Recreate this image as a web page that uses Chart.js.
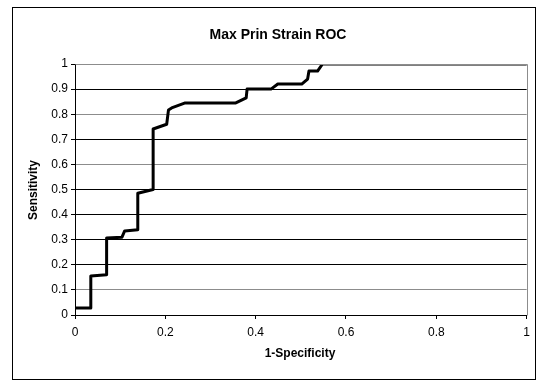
<!DOCTYPE html>
<html>
<head>
<meta charset="utf-8">
<script src="https://cdn.jsdelivr.net/npm/chart.js@4/dist/chart.umd.min.js"></script>
<style>
    html, body { margin: 0; padding: 0; background: #fff; }
    #wrap { width: 536px; height: 380px; }
</style>
</head>
<body>
<div id="wrap"><canvas id="chart" width="536" height="380"></canvas></div>
<script>
'use strict';

// ROC curve points
const specificity = [
    0, 0.035, 0.035, 0.07, 0.07, 0.104, 0.11, 0.139, 0.139, 0.173, 0.173,
    0.203, 0.207, 0.214, 0.244, 0.356, 0.379, 0.381, 0.434, 0.449, 0.502,
    0.515, 0.518, 0.537, 0.548, 1,
];
const sensitivity = [
    0.028, 0.028, 0.155, 0.16, 0.307, 0.31, 0.335, 0.34, 0.485, 0.5, 0.741,
    0.76, 0.817, 0.825, 0.845, 0.845, 0.865, 0.9, 0.9, 0.92, 0.92, 0.94,
    0.972, 0.972, 1, 1,
];
const xTicks = [0, 0.2, 0.4, 0.6, 0.8, 1];
const yTicks = [0, 0.1, 0.2, 0.3, 0.4, 0.5, 0.6, 0.7, 0.8, 0.9, 1];

const chartTitle = 'Max Prin Strain ROC';
const xTitle = '1-Specificity';
const yTitle = 'Sensitivity';

const FONT = '"Liberation Sans", Arial, sans-serif';

// gridlines that look black in the picture, the rest look grey
const darkLines = [0.2, 0.3, 0.4, 0.5, 0.7, 0.9];

const points = specificity.map((x, i) => ({ x: x, y: sensitivity[i] }));

// Frame, plot border and the texts, Excel style
const decorations = {
    id: 'decorations',
    beforeDraw(chart) {
        const ctx = chart.ctx;
        ctx.save();
        ctx.fillStyle = '#fff';
        ctx.fillRect(0, 0, chart.width, chart.height);
        ctx.restore();
    },
    afterDraw(chart) {
        const ctx = chart.ctx;
        const area = chart.chartArea;
        ctx.save();
        // outer frame
        ctx.strokeStyle = '#000';
        ctx.lineWidth = 1;
        ctx.strokeRect(12.5, 7.5, 523, 372);
        // grey plot border top / right
        ctx.strokeStyle = '#8c8c8c';
        ctx.beginPath();
        ctx.moveTo(Math.round(area.left) + 0.5, Math.round(area.top) + 0.5);
        ctx.lineTo(Math.round(area.right) + 0.5, Math.round(area.top) + 0.5);
        ctx.lineTo(Math.round(area.right) + 0.5, Math.round(area.bottom) + 0.5);
        ctx.stroke();

        ctx.fillStyle = '#000';
        ctx.textAlign = 'center';
        ctx.textBaseline = 'middle';
        ctx.font = 'bold 14px ' + FONT;
        ctx.fillText(chartTitle, 278, 35);
        ctx.font = 'bold 12px ' + FONT;
        ctx.fillText(xTitle, 300, 354);
        ctx.translate(34, 190);
        ctx.rotate(-Math.PI / 2);
        ctx.fillText(yTitle, 0, 0);
        ctx.restore();
    },
};

new Chart(document.getElementById('chart'), {
    type: 'scatter',
    data: {
        datasets: [
            {
                data: points,
                showLine: true,
                borderColor: '#000',
                borderWidth: 3,
                borderJoinStyle: 'round',
                borderCapStyle: 'round',
                pointRadius: 0,
                pointHoverRadius: 0,
                tension: 0,
            },
        ],
    },
    options: {
        responsive: false,
        animation: false,
        devicePixelRatio: 1,
        layout: {
            padding: { left: 0, top: 64, right: 6, bottom: 0 },
        },
        plugins: {
            legend: { display: false },
            title: { display: false },
            tooltip: { enabled: false },
        },
        scales: {
            x: {
                type: 'linear',
                min: 0,
                max: 1,
                afterFit(scale) {
                    scale.height = 65;
                },
                afterBuildTicks(scale) {
                    scale.ticks = xTicks.map((v) => ({ value: v }));
                },
                ticks: {
                    color: '#000',
                    font: { family: FONT, size: 12 },
                    padding: 6,
                    maxRotation: 0,
                    callback: (v) => String(v),
                },
                grid: {
                    drawOnChartArea: false,
                    drawTicks: true,
                    tickLength: 4,
                    color: '#000',
                },
                border: { color: '#000', width: 1 },
            },
            y: {
                type: 'linear',
                min: 0,
                max: 1,
                afterFit(scale) {
                    scale.width = 75;
                },
                afterBuildTicks(scale) {
                    scale.ticks = yTicks.map((v) => ({ value: v }));
                },
                ticks: {
                    color: '#000',
                    font: { family: FONT, size: 12 },
                    padding: 3,
                    callback: (v) => String(v),
                },
                grid: {
                    drawTicks: true,
                    tickLength: 4,
                    color: (c) =>
                        c.tick && darkLines.includes(c.tick.value)
                            ? '#000'
                            : '#8c8c8c',
                    tickColor: '#000',
                },
                border: { color: '#000', width: 1 },
            },
        },
    },
    plugins: [decorations],
});
</script>
</body>
</html>
